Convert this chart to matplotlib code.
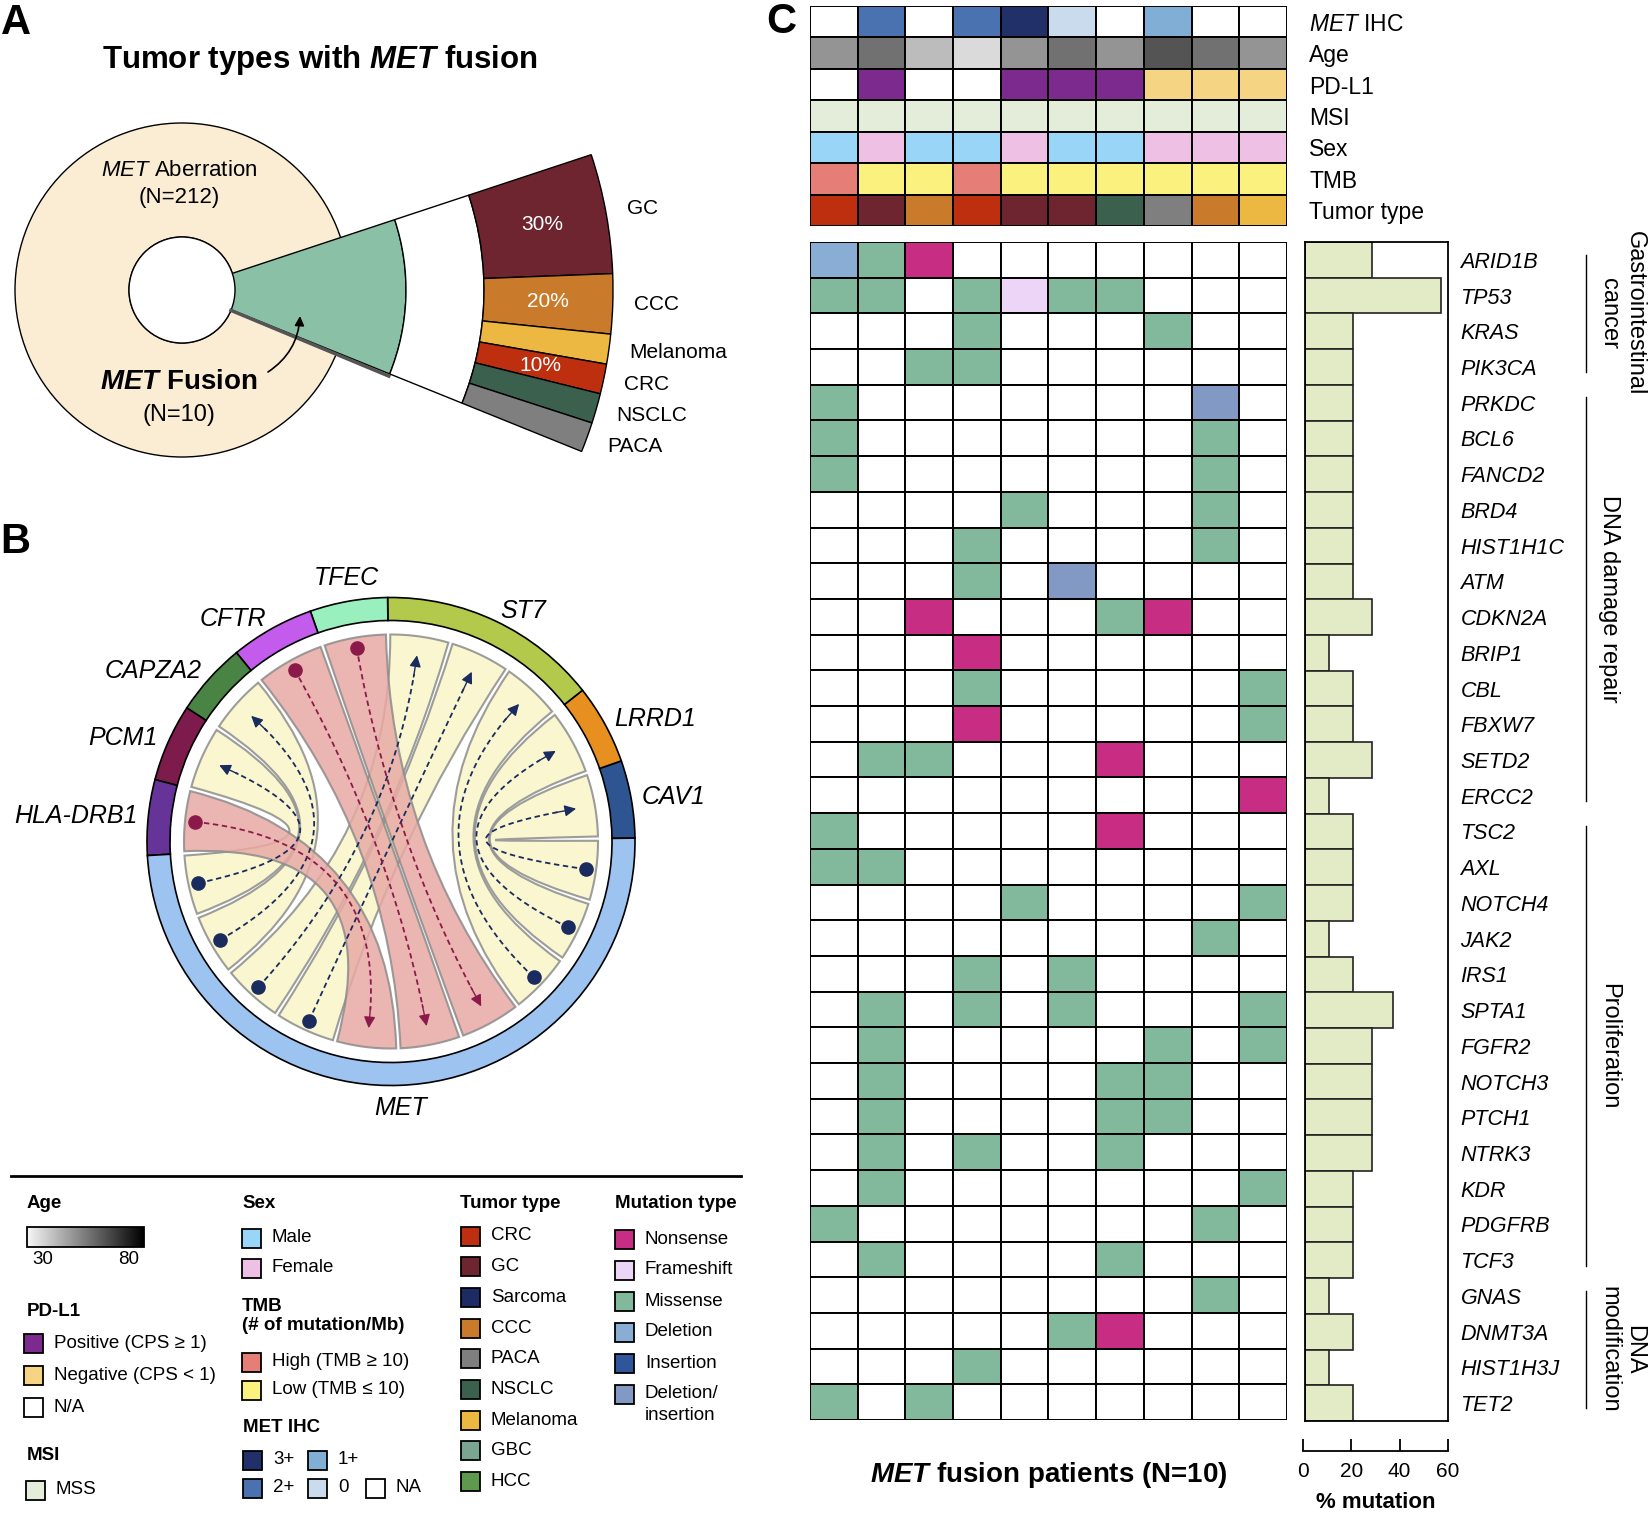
import numpy as np
import matplotlib
matplotlib.use('Agg')
import matplotlib.pyplot as plt
from matplotlib.patches import Wedge, Rectangle, Circle, PathPatch
from matplotlib.path import Path
from matplotlib.colors import LinearSegmentedColormap, Normalize
from matplotlib.transforms import blended_transform_factory

plt.rcParams['font.family'] = ['Liberation Sans', 'DejaVu Sans']
plt.rcParams['mathtext.fontset'] = 'custom'
plt.rcParams['mathtext.rm'] = 'Liberation Sans'
plt.rcParams['mathtext.it'] = 'Liberation Sans:italic'
plt.rcParams['mathtext.bf'] = 'Liberation Sans:bold'
plt.rcParams['mathtext.bfit'] = 'Liberation Sans:italic:bold'

# ---------------- data ----------------
# panel A
fan_types = ['GC', 'CCC', 'Melanoma', 'CRC', 'NSCLC', 'PACA']
fan_share = [4, 2, 1, 1, 1, 1]
fan_pct = ['30%', '20%', '', '10%', '', '']
n_aberration = 212
n_fusion = 10

# panel B
ring_genes = ['CAV1', 'LRRD1', 'ST7', 'TFEC', 'CFTR', 'CAPZA2', 'PCM1', 'HLA-DRB1', 'MET']
ring_span = [18.5, 19, 52.5, 18.5, 20, 17.5, 18.5, 18, 177.5]
# fusions in the order they sit on the MET arc
partners = ['PCM1', 'CAPZA2', 'ST7', 'ST7', 'HLA-DRB1', 'CFTR', 'TFEC', 'ST7', 'LRRD1', 'CAV1']
met_5prime = [True, True, True, True, False, False, False, True, True, True]

# panel C annotations
met_ihc = ['NA', '2+', 'NA', '2+', '3+', '0', 'NA', '1+', 'NA', 'NA']
age = [50, 57, 42, 36, 50, 57, 50, 63, 57, 50]
pdl1 = ['NA', 'Pos', 'NA', 'NA', 'Pos', 'Pos', 'Pos', 'Neg', 'Neg', 'Neg']
msi = ['MSS'] * 10
sex = ['M', 'F', 'M', 'M', 'F', 'M', 'M', 'F', 'F', 'F']
tmb = ['High', 'Low', 'Low', 'High', 'Low', 'Low', 'Low', 'Low', 'Low', 'Low']
tumor = ['CRC', 'GC', 'CCC', 'CRC', 'GC', 'GC', 'NSCLC', 'PACA', 'CCC', 'Melanoma']

genes = ['ARID1B', 'TP53', 'KRAS', 'PIK3CA', 'PRKDC', 'BCL6', 'FANCD2', 'BRD4',
         'HIST1H1C', 'ATM', 'CDKN2A', 'BRIP1', 'CBL', 'FBXW7', 'SETD2', 'ERCC2',
         'TSC2', 'AXL', 'NOTCH4', 'JAK2', 'IRS1', 'SPTA1', 'FGFR2', 'NOTCH3',
         'PTCH1', 'NTRK3', 'KDR', 'PDGFRB', 'TCF3', 'GNAS', 'DNMT3A', 'HIST1H3J', 'TET2']
# M missense, N nonsense, F frameshift, D deletion, X deletion/insertion
mutations = ['DMN.......', 'MM.MFMM...', '...M...M..', '..MM......', 'M.......X.',
             'M.......M.', 'M.......M.', '....M...M.', '...M....M.', '...M.X....',
             '..N...MN..', '...N......', '...M.....M', '...N.....M', '.MM...N...',
             '.........N', 'M.....N...', 'MM........', '....M....M', '........M.',
             '...M.M....', '.M.M.M...M', '.M.....M.M', '.M....MM..', '.M....MM..',
             '.M.M..M...', '.M.......M', 'M.......M.', '.M....M...', '........M.',
             '.....MN...', '...M......', 'M.M.......']
pct_mut = [28, 57, 20, 20, 20, 20, 20, 20, 20, 20, 28, 10, 20, 20, 28, 10,
           20, 20, 20, 10, 20, 37, 28, 28, 28, 28, 20, 20, 20, 10, 20, 10, 20]
group_names = ['Gastrointestinal\ncancer', 'DNA damage repair', 'Proliferation', 'DNA\nmodification']
group_sizes = [4, 12, 13, 4]

# ---------------- colours ----------------
tumor_colors = {'CRC': '#BD2F0F', 'GC': '#6E2530', 'Sarcoma': '#1C2B64', 'CCC': '#C97A2B',
                'PACA': '#7F7F7F', 'NSCLC': '#3B604E', 'Melanoma': '#EDB842',
                'GBC': '#7AA590', 'HCC': '#5E9A4E'}
ring_colors = ['#2E5591', '#E8901F', '#B2C94B', '#99F0BE', '#C35CED', '#4A8444',
               '#7D1B4C', '#663399', '#9DC3F1']
ihc_colors = {'3+': '#22306A', '2+': '#4A72B0', '1+': '#81AED4', '0': '#CADBEE', 'NA': 'white'}
pdl1_colors = {'Pos': '#7D2A8E', 'Neg': '#F5D483', 'NA': 'white'}
msi_colors = {'MSS': '#E4EDD9'}
sex_colors = {'M': '#99D5F7', 'F': '#EEC0E3'}
tmb_colors = {'High': '#E47E76', 'Low': '#FBF17F'}
mut_colors = {'M': '#82B99C', 'N': '#C72E83', 'F': '#EDD5F8', 'D': '#8AADD3',
              'I': '#2F569A', 'X': '#8299C4', '.': 'white'}
age_cmap = LinearSegmentedColormap.from_list('age', ['#F7F7F7', '#000000'])
age_norm = Normalize(30, 80)

W, H = 1649, 1513
fig = plt.figure(figsize=(W / 100, H / 100), dpi=100)
bg = fig.add_axes([0, 0, 1, 1])
bg.axis('off')


def Y(y):
    return H - y


def px_axes(x0, y0, x1, y1):
    return fig.add_axes([x0 / W, 1 - y1 / H, (x1 - x0) / W, (y1 - y0) / H])


# ================= panel A =================
bg.text(1, Y(3), 'A', fontsize=30, fontweight='bold', va='top')
bg.text(320, Y(60), r'Tumor types with $\mathbfit{MET}$ fusion', fontsize=22.5,
        fontweight='bold', ha='center', va='center')
cx, cy = 182, Y(290)
a_lo, a_hi = -22.0, 18.3
bg.add_patch(Wedge((cx, cy), 167, 0, 360, width=114, fc='#FAEDD3', ec='black', lw=1))
bg.plot([cx + 53 * np.cos(np.radians(a_lo - 0.6)), cx + 224 * np.cos(np.radians(a_lo - 0.6))],
        [cy + 53 * np.sin(np.radians(a_lo - 0.6)), cy + 224 * np.sin(np.radians(a_lo - 0.6))],
        color='#555555', lw=2.5)
bg.add_patch(Wedge((cx, cy), 224, a_lo, a_hi, fc='#8AC0A6', ec='black', lw=1))
bg.add_patch(Circle((cx, cy), 53, fc='white', ec='black', lw=1))
bg.add_patch(Wedge((cx, cy), 302, a_lo, a_hi, width=78, fc='white', ec='black', lw=1))
edges = a_hi - (a_hi - a_lo) * np.cumsum([0] + fan_share) / sum(fan_share)
for k, t in enumerate(fan_types):
    t1, t2 = edges[k + 1], edges[k]
    bg.add_patch(Wedge((cx, cy), 431, t1, t2, width=129, fc=tumor_colors[t], ec='black', lw=1))
    mid = np.radians((t1 + t2) / 2)
    bg.text(cx + 452 * np.cos(mid), cy + 458 * np.sin(mid), t, ha='left', va='center', fontsize=15)
    if fan_pct[k]:
        bg.text(cx + 366 * np.cos(mid), cy + 366 * np.sin(mid), fan_pct[k], color='white',
                ha='center', va='center', fontsize=15)
bg.text(179, Y(170), r'$\mathit{MET}$ Aberration', fontsize=16, ha='center', va='center')
bg.text(179, Y(197), f'(N={n_aberration})', fontsize=16, ha='center', va='center')
bg.text(179, Y(382), r'$\mathbfit{MET}$ Fusion', fontsize=20, fontweight='bold', ha='center', va='center')
bg.text(179, Y(415), f'(N={n_fusion})', fontsize=17, ha='center', va='center')
bg.annotate('', xy=(300, Y(316)), xytext=(268, Y(372)),
            arrowprops=dict(arrowstyle='-|>', color='black', lw=1.2, mutation_scale=14,
                            connectionstyle='arc3,rad=0.25', shrinkA=0, shrinkB=0))

# ================= panel B =================
bg.text(0, Y(522), 'B', fontsize=30, fontweight='bold', va='top')
bx, by = 391, Y(841.5)
R_out, R_ring, R_ch = 244, 23, 207
starts = 0.8 + np.concatenate([[0], np.cumsum(ring_span)[:-1]])
gene_arc = {}
for g, s, sp, col in zip(ring_genes, starts, ring_span, ring_colors):
    gene_arc[g] = (s, s + sp)
    bg.add_patch(Wedge((bx, by), R_out, s, s + sp, width=R_ring, fc=col, ec='black', lw=1.2))
    mid = np.radians(s + sp / 2)
    c, sn = np.cos(mid), np.sin(mid)
    ha = 'left' if c > 0.2 else ('right' if c < -0.2 else 'center')
    va = 'center' if abs(c) > 0.2 else ('bottom' if sn > 0 else 'top')
    bg.text(bx + 255 * c, by + 255 * sn, g, style='italic', fontsize=18, ha=ha, va=va)


def pol(ang, r):
    a = np.radians(ang)
    return np.array([bx + r * np.cos(a), by + r * np.sin(a)])


def arc_pts(a1, a2, r, n=40):
    return [pol(a, r) for a in np.linspace(a1, a2, n)]


gap = 1.2
m0, m1 = gene_arc['MET']
mw = (m1 - m0) / len(partners)
ribbons = []
for k, (p, m5) in enumerate(zip(partners, met_5prime)):
    q = (m0 + k * mw + gap / 2, m0 + (k + 1) * mw - gap / 2)
    same = [i for i, pp in enumerate(partners) if pp == p]
    j = len(same) - 1 - same.index(k)
    p0, p1 = gene_arc[p]
    pw = (p1 - p0) / len(same)
    pa = (p0 + j * pw + gap / 2, p0 + (j + 1) * pw - gap / 2)
    ribbons.append((pa, q, m5))

centre = np.array([bx, by])
for pa, q, m5 in ribbons:
    A = arc_pts(pa[0], pa[1], R_ch)
    B = arc_pts(q[0], q[1], R_ch)
    verts = A + [centre, B[0]] + B[1:] + [centre, A[0], A[0]]
    codes = ([Path.MOVETO] + [Path.LINETO] * (len(A) - 1) + [Path.CURVE3] * 2 +
             [Path.LINETO] * (len(B) - 1) + [Path.CURVE3] * 2 + [Path.CLOSEPOLY])
    fc = '#FAF6C8' if m5 else '#E8AAA4'
    bg.add_patch(PathPatch(Path(verts, codes), fc=fc, ec='#8C8C8C', lw=1.5, alpha=0.85))

for pa, q, m5 in ribbons:
    pm, qm = np.mean(pa), np.mean(q)
    src, dst = (qm, pm) if m5 else (pm, qm)
    col = '#1A2B5F' if m5 else '#8B1A4B'
    P0, P2 = pol(src, 197), pol(dst, 188)
    t = np.linspace(0, 1, 120)[:, None]
    curve = (1 - t) ** 2 * P0 + 2 * (1 - t) * t * centre + t ** 2 * P2
    bg.plot(curve[:-6, 0], curve[:-6, 1], color=col, lw=1.3, ls=(0, (3, 2)))
    bg.plot(P0[0], P0[1], 'o', ms=9.5, color=col)
    bg.annotate('', xy=tuple(curve[-1]), xytext=tuple(curve[-8]),
                arrowprops=dict(arrowstyle='-|>', color=col, lw=1.0, mutation_scale=17,
                                shrinkA=0, shrinkB=0))

# ================= legend =================
bg.plot([11, 741], [Y(1176), Y(1176)], color='black', lw=2)
LFS = 13.5


def head(x, y, s):
    bg.text(x, Y(y), s, fontsize=LFS, fontweight='bold', ha='left', va='center')


def item(x, y, color, s, tx=None):
    bg.add_patch(Rectangle((x, Y(y) - 9.5), 19, 19, fc=color, ec='black', lw=1.3))
    bg.text(x + 30 if tx is None else tx, Y(y), s, fontsize=LFS, ha='left', va='center')


head(27, 1203, 'Age')
bg.imshow(np.linspace(0, 1, 256)[None, :], extent=(27, 144, Y(1247), Y(1227)),
          cmap=age_cmap, aspect='auto')
bg.add_patch(Rectangle((27, Y(1247)), 117, 20, fc='none', ec='black', lw=1.3))
bg.text(43, Y(1260), '30', fontsize=LFS, ha='center', va='center')
bg.text(129, Y(1260), '80', fontsize=LFS, ha='center', va='center')
head(27, 1311, 'PD-L1')
item(24, 1343, pdl1_colors['Pos'], 'Positive (CPS ≥ 1)')
item(24, 1375, pdl1_colors['Neg'], 'Negative (CPS < 1)')
item(24, 1407, pdl1_colors['NA'], 'N/A')
head(27, 1455, 'MSI')
item(26, 1490, msi_colors['MSS'], 'MSS')

head(242, 1203, 'Sex')
item(242, 1238, sex_colors['M'], 'Male')
item(242, 1268, sex_colors['F'], 'Female')
bg.text(242, Y(1316), 'TMB\n(# of mutation/Mb)', fontsize=LFS, fontweight='bold',
        ha='left', va='center', linespacing=1.2)
item(242, 1362, tmb_colors['High'], 'High (TMB ≥ 10)')
item(242, 1390, tmb_colors['Low'], 'Low (TMB ≤ 10)')
head(243, 1427, 'MET IHC')
item(243, 1460, ihc_colors['3+'], '3+')
item(308, 1460, ihc_colors['1+'], '1+')
item(243, 1488, ihc_colors['2+'], '2+')
item(308, 1488, ihc_colors['0'], '0')
item(366, 1488, ihc_colors['NA'], 'NA')

head(460, 1203, 'Tumor type')
for k, t in enumerate(['CRC', 'GC', 'Sarcoma', 'CCC', 'PACA', 'NSCLC', 'Melanoma', 'GBC', 'HCC']):
    item(461, 1236 + 30.7 * k, tumor_colors[t], t)

head(615, 1203, 'Mutation type')
mut_leg = [('N', 'Nonsense'), ('F', 'Frameshift'), ('M', 'Missense'), ('D', 'Deletion'),
           ('I', 'Insertion'), ('X', 'Deletion/')]
for k, (code, name) in enumerate(mut_leg):
    item(615, 1239 + 31 * k, mut_colors[code], name)
bg.text(645, Y(1415), 'insertion', fontsize=LFS, ha='left', va='center')

# ================= panel C =================
bg.text(766, Y(2), 'C', fontsize=30, fontweight='bold', va='top')

ann_rows = [
    (r'$\mathit{MET}$ IHC', [ihc_colors[v] for v in met_ihc]),
    ('Age', [age_cmap(age_norm(v)) for v in age]),
    ('PD-L1', [pdl1_colors[v] for v in pdl1]),
    ('MSI', [msi_colors[v] for v in msi]),
    ('Sex', [sex_colors[v] for v in sex]),
    ('TMB', [tmb_colors[v] for v in tmb]),
    ('Tumor type', [tumor_colors[v] for v in tumor]),
]
ax_h = px_axes(810, 6, 1287, 226)
for i, (_, cols) in enumerate(ann_rows):
    for j, c in enumerate(cols):
        ax_h.add_patch(Rectangle((j, i), 1, 1, fc=c, ec='black', lw=1.4))
ax_h.set_xlim(0, 10)
ax_h.set_ylim(len(ann_rows), 0)
for s in ax_h.spines.values():
    s.set_visible(False)
ax_h.set_xticks([])
ax_h.yaxis.tick_right()
ax_h.set_yticks(np.arange(len(ann_rows)) + 0.5)
ax_h.set_yticklabels([r[0] for r in ann_rows], fontsize=16.5)
ax_h.tick_params(axis='y', length=0, pad=16)

n = len(genes)
ax_m = px_axes(810, 242, 1287, 1420)
for i, row in enumerate(mutations):
    for j, code in enumerate(row):
        ax_m.add_patch(Rectangle((j, i - 0.5), 1, 1, fc=mut_colors[code], ec='black', lw=1.4))
ax_m.set_xlim(0, 10)
ax_m.set_ylim(n - 0.5, -0.5)
ax_m.axis('off')
bg.text(1049, Y(1475), rf'$\mathbfit{{MET}}$ fusion patients (N={n_fusion})', fontsize=20,
        fontweight='bold', ha='center', va='center')

ax_b = px_axes(1305, 242, 1448, 1421)
ax_b.barh(np.arange(n), pct_mut, height=1.0, color='#E3EBC6', edgecolor='#222222', lw=1.2)
ax_b.set_xlim(0, 60)
ax_b.set_ylim(n - 0.5, -0.5)
for s in ax_b.spines.values():
    s.set_linewidth(1.3)
ax_b.set_xticks([])
ax_b.yaxis.tick_right()
ax_b.set_yticks(np.arange(n))
ax_b.set_yticklabels(genes, style='italic', fontsize=15.5)
ax_b.tick_params(axis='y', length=0, pad=9)

ax_x = px_axes(1303, 1450, 1448, 1451)
ax_x.patch.set_visible(False)
for side in ['top', 'left', 'right']:
    ax_x.spines[side].set_visible(False)
ax_x.spines['bottom'].set_linewidth(1.3)
ax_x.set_xlim(0, 60)
ax_x.set_xticks([0, 20, 40, 60])
ax_x.set_yticks([])
ax_x.tick_params(axis='x', direction='in', length=9, width=1.3, labelsize=15, pad=8)
ax_x.set_xlabel('% mutation', fontsize=16, fontweight='bold', labelpad=8)

trans = blended_transform_factory(bg.transData, ax_b.transData)
start = 0
for name, size in zip(group_names, group_sizes):
    top, bot = start - 0.5 + 0.35, start + size - 0.5 - 0.35
    bg.plot([1586, 1586], [top, bot], color='black', lw=1, transform=trans)
    bg.text(1598, (top + bot) / 2, name, rotation=270, fontsize=17, ha='left', va='center',
            multialignment='center', transform=trans)
    start += size

bg.set_xlim(0, W)
bg.set_ylim(0, H)
fig.savefig('out.png', dpi=100)
